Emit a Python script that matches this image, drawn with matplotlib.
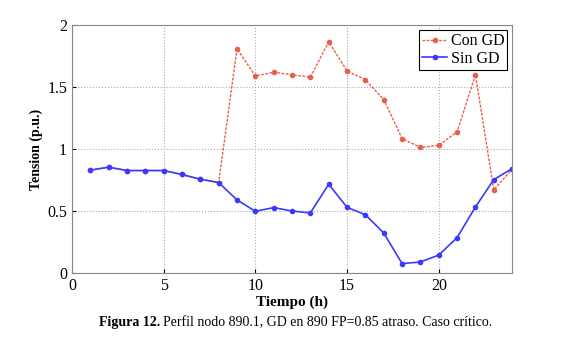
import matplotlib.pyplot as plt

hours = list(range(1, 25))
con_gd = [0.83, 0.854, 0.827, 0.827, 0.827, 0.795, 0.757, 0.73,
          1.81, 1.59, 1.62, 1.60, 1.58, 1.866, 1.63, 1.56,
          1.40, 1.085, 1.013, 1.03, 1.14, 1.60, 0.67, 0.84]
sin_gd = [0.83, 0.854, 0.827, 0.827, 0.827, 0.795, 0.757, 0.73,
          0.59, 0.498, 0.528, 0.50, 0.485, 0.716, 0.53, 0.47,
          0.323, 0.076, 0.089, 0.145, 0.286, 0.533, 0.754, 0.843]
xticks = [0, 5, 10, 15, 20]
yticks = [0, 0.5, 1, 1.5, 2]
ytick_labels = ['0', '0.5', '1', '1.5', '2']

plt.rcParams['font.family'] = ['Liberation Serif', 'DejaVu Serif']

fig = plt.figure(figsize=(5.8, 3.4), dpi=100)
ax = fig.add_axes([0.124, 0.197, 0.759, 0.729])

ax.plot(hours, con_gd, color='#e8604a', linestyle='--', linewidth=1,
        marker='o', markersize=3, label='Con GD', dashes=(2, 1))
ax.plot(hours, sin_gd, color='#3a3aff', linestyle='-', linewidth=1.2,
        marker='o', markersize=3, label='Sin GD')

ax.set_xlim(0, 24)
ax.set_ylim(0, 2)
ax.set_xticks(xticks)
ax.set_yticks(yticks)
ax.set_yticklabels(ytick_labels)
ax.tick_params(labelsize=11.5, direction='in', length=3)
ax.grid(True, linestyle=':', color='#aaaaaa', linewidth=0.8)
for s in ax.spines.values():
    s.set_color('#888888')

ax.set_xlabel('Tiempo (h)', fontsize=11, fontweight='bold', labelpad=1)
ax.set_ylabel('Tension (p.u.)', fontsize=10, fontweight='bold', labelpad=3)

leg = ax.legend(loc='upper right', fontsize=11.5, fancybox=False,
                framealpha=1, edgecolor='black', borderpad=0.2,
                handlelength=1.6, handletextpad=0.2, labelspacing=0.1,
                borderaxespad=0.3)
leg.get_frame().set_linewidth(0.8)

cap = fig.text(0.17, 0.04, 'Figura 12.', fontsize=10, fontweight='bold')
fig.canvas.draw()
bb = cap.get_window_extent()
fig.text(bb.x1 / fig.bbox.width + 0.006, 0.04,
         'Perfil nodo 890.1, GD en 890 FP=0.85 atraso. Caso crítico.',
         fontsize=10)

fig.savefig('out.png', dpi=100)
